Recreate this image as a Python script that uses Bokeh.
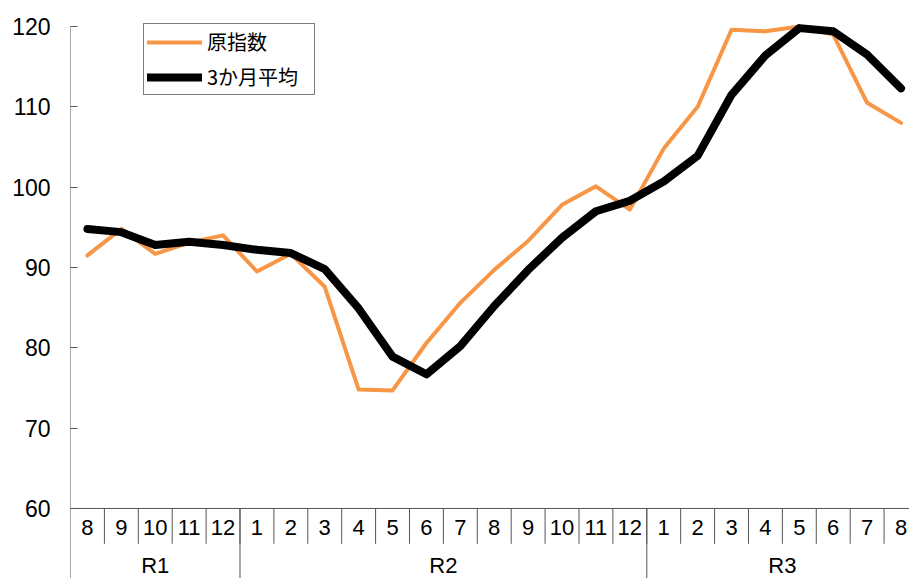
from bokeh.plotting import figure
from bokeh.models import ColumnDataSource, Legend, LegendItem, FixedTicker, Range1d
from bokeh.core.properties import value
from bokeh.embed import file_html
from bokeh.resources import INLINE

months = ["8", "9", "10", "11", "12", "1", "2", "3", "4", "5", "6", "7", "8",
          "9", "10", "11", "12", "1", "2", "3", "4", "5", "6", "7", "8"]
era_names = ["R1", "R2", "R3"]
era_counts = [5, 12, 8]
original = [91.5, 94.8, 91.7, 93.1, 94.0, 89.5, 91.7, 87.6, 74.8, 74.7, 80.6, 85.6, 89.7,
            93.3, 97.8, 100.1, 97.2, 104.8, 110.0, 119.6, 119.4, 120.0, 119.0, 110.5, 108.0]
moving_avg = [94.8, 94.4, 92.8, 93.2, 92.8, 92.2, 91.8, 89.8, 84.9, 78.9, 76.7, 80.2, 85.2,
              89.7, 93.7, 97.0, 98.3, 100.7, 103.9, 111.5, 116.4, 119.8, 119.4, 116.5, 112.3]
y_ticks = [60, 70, 80, 90, 100, 110, 120]

FONT = "Noto Sans CJK JP"
NUMFONT = "Liberation Sans"
n = len(months)
xs = [i + 0.5 for i in range(n)]

p = figure(width=909, height=578, output_backend="svg", toolbar_location=None,
           x_range=Range1d(0, 24.75), y_range=Range1d(51.28, 121.37),
           x_axis_type=None, min_border_left=70, min_border_right=0,
           min_border_top=15, min_border_bottom=0)
p.outline_line_color = None
p.xgrid.visible = False
p.ygrid.visible = False

ax = p.yaxis[0]
ax.ticker = FixedTicker(ticks=y_ticks)
ax.major_tick_in = 7
ax.major_tick_out = 0
ax.minor_tick_line_color = None
ax.axis_line_color = None
ax.major_tick_line_color = "#555555"
ax.major_label_text_font = NUMFONT
ax.major_label_text_font_size = "23px"
ax.major_label_text_color = "#000000"
ax.major_label_standoff = 20

# vertical axis line from the top tick down through the category table
base = y_ticks[0]
p.segment(x0=[0], y0=[y_ticks[-1]], x1=[0], y1=[40], line_color="#555555", line_width=1)

# category table under the plot
p.segment(x0=[0], y0=[base], x1=[24.75], y1=[base], line_color="#555555", line_width=1)
p.segment(x0=list(range(1, n)), y0=[base] * (n - 1), x1=list(range(1, n)),
          y1=[base - 4.4] * (n - 1), line_color="#555555", line_width=1)
bounds = []
acc = 0
for c in era_counts[:-1]:
    acc += c
    bounds.append(acc)
p.segment(x0=bounds, y0=[base] * len(bounds), x1=bounds, y1=[40] * len(bounds),
          line_color="#555555", line_width=1)
p.text(x=xs, y=[base - 2.35] * n, text=months, text_align="center",
       text_baseline="middle", text_font=value(NUMFONT), text_font_size="22px",
       text_color="#000000")
centers = []
start = 0
for c in era_counts:
    centers.append(start + c / 2)
    start += c
p.text(x=centers, y=[base - 7.1] * len(centers), text=era_names, text_align="center",
       text_baseline="middle", text_font=value(NUMFONT), text_font_size="22px",
       text_color="#000000")

src = ColumnDataSource(dict(x=xs, orig=original, avg=moving_avg))
r1 = p.line("x", "orig", source=src, line_color="#F79646", line_width=4,
            line_join="round", line_cap="round")
r2 = p.line("x", "avg", source=src, line_color="#000000", line_width=8,
            line_join="round", line_cap="round")

legend = Legend(items=[LegendItem(label="原指数", renderers=[r1]),
                       LegendItem(label="3か月平均", renderers=[r2])],
                location=(73, 483), orientation="vertical")
legend.label_text_font = FONT
legend.label_text_font_size = "20px"
legend.label_text_color = "#000000"
legend.glyph_width = 55
legend.glyph_height = 22
legend.label_height = 22
legend.label_width = 104
legend.label_standoff = 5
legend.spacing = 6
legend.padding = 3
legend.margin = 0
legend.border_line_color = "#000000"
legend.border_line_width = 1
legend.background_fill_alpha = 1
p.add_layout(legend, "center")

open("out.html", "w").write(file_html(p, INLINE))
